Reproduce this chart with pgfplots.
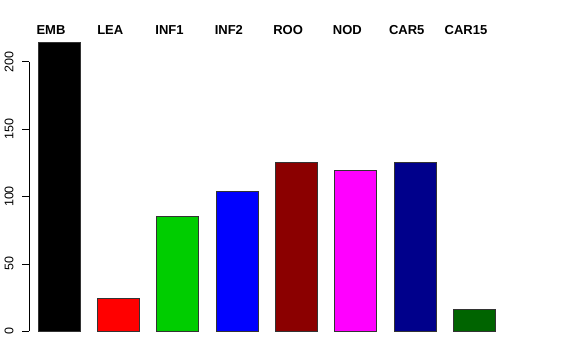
\documentclass[border=0pt]{standalone}
\usepackage{pgfplots}
\pgfplotsset{compat=1.18}
\usepackage{fontspec}
\setmainfont{Liberation Sans}
\definecolor{rgreen}{HTML}{00CD00}
\definecolor{rred}{HTML}{FF0000}
\definecolor{rblue}{HTML}{0000FF}
\definecolor{rmagenta}{HTML}{FF00FF}
\definecolor{rdarkred}{HTML}{8B0000}
\definecolor{rdarkblue}{HTML}{00008B}
\definecolor{rdarkgreen}{HTML}{006400}
\definecolor{redge}{HTML}{333333}
\begin{document}
\begin{tikzpicture}
\useasboundingbox (0,0) rectangle (576pt,360pt);
\begin{axis}[
  at={(29.3pt,28.7pt)}, anchor=south west,
  scale only axis, width=475pt, height=269.6pt,
  xmin=-0.506, xmax=7.506, ymin=0, ymax=200,
  clip=false,
  axis y line*=left, axis x line=none,
  y axis line style={-, line width=0.75pt},
  ytick={0,50,100,150,200},
  tick align=outside, major tick length=7.2pt,
  every tick/.style={black, line width=0.75pt},
  yticklabel={\rotatebox{90}{\pgfmathprintnumber{\tick}}},
  yticklabel style={anchor=east, inner sep=0pt, outer sep=0pt, xshift=-8.7pt, font=\fontsize{12.5}{12.5}\selectfont},
  /pgf/number format/assume math mode=true,
  ybar, bar width=42pt, bar shift=0pt,
  every axis plot/.append style={draw=redge, line width=0.8pt},
]
\addplot[fill=black] coordinates {(0,214)};
\addplot[fill=rred] coordinates {(1,24.5)};
\addplot[fill=rgreen] coordinates {(2,85)};
\addplot[fill=rblue] coordinates {(3,104)};
\addplot[fill=rdarkred] coordinates {(4,125)};
\addplot[fill=rmagenta] coordinates {(5,119)};
\addplot[fill=rdarkblue] coordinates {(6,125)};
\addplot[fill=rdarkgreen] coordinates {(7,16.5)};
\foreach \lab [count=\i from 0] in {EMB,LEA,INF1,INF2,ROO,NOD,CAR5,CAR15} {
  \edef\temp{\noexpand\node[anchor=base, inner sep=0pt, font=\noexpand\fontsize{13}{13}\noexpand\selectfont\noexpand\bfseries] at (axis cs:\i-0.14,220.5) {\lab};}
  \temp
}
\end{axis}
\end{tikzpicture}
\end{document}
